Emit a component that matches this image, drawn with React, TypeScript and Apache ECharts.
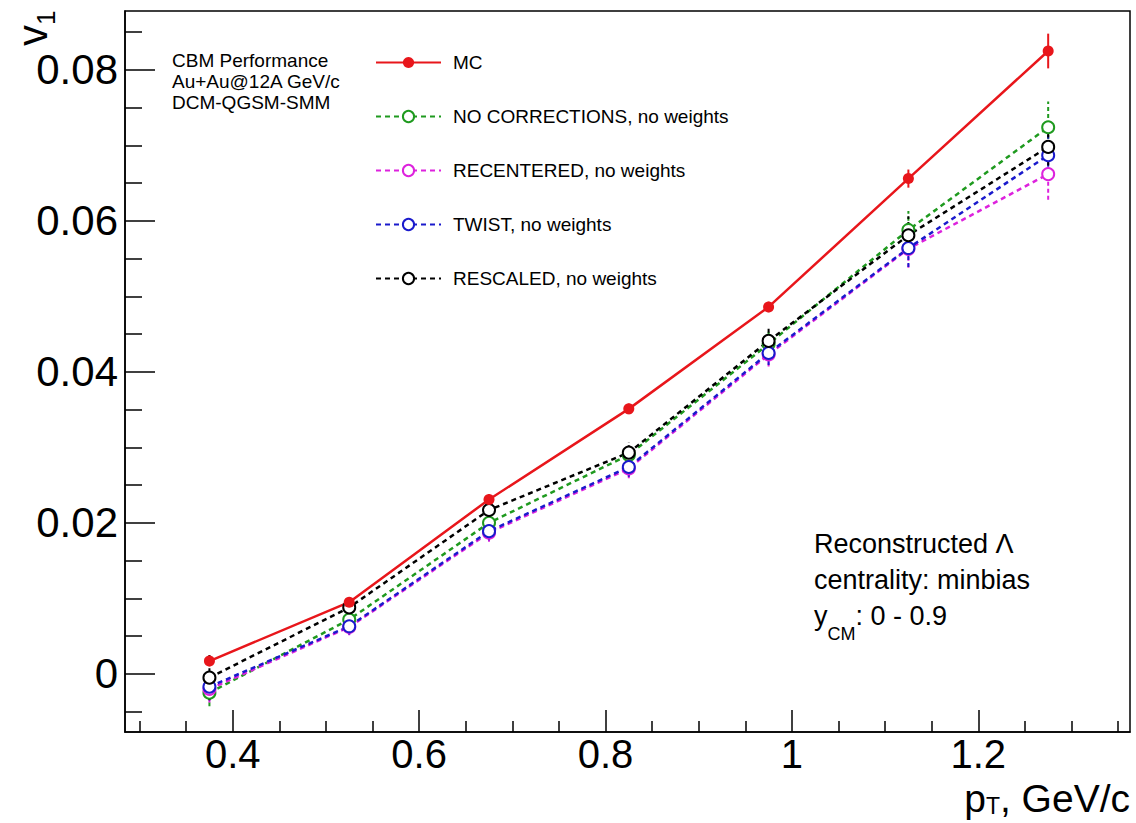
import React, { useEffect, useRef } from "react";
import * as echarts from "echarts";

// ---- data ----
const PT = [0.375, 0.525, 0.675, 0.825, 0.975, 1.125, 1.275];

const MC = [0.0017, 0.0095, 0.0231, 0.0351, 0.0486, 0.0656, 0.0825];
const MC_ERR = [0.0007, 0.0006, 0.0007, 0.0007, 0.0007, 0.0012, 0.0023];

const NO_CORR = [-0.0025, 0.0072, 0.02, 0.029, 0.0437, 0.0588, 0.0724];
const NO_CORR_ERR = [0.0018, 0.0011, 0.0012, 0.0013, 0.0016, 0.0025, 0.0034];

const RECENTERED = [-0.002, 0.0062, 0.0187, 0.0272, 0.0423, 0.0563, 0.0662];
const RECENTERED_ERR = [0.0018, 0.0011, 0.0012, 0.0013, 0.0016, 0.0025, 0.0034];

const TWIST = [-0.0017, 0.0063, 0.0189, 0.0274, 0.0425, 0.0564, 0.0687];
const TWIST_ERR = [0.0018, 0.0011, 0.0012, 0.0013, 0.0016, 0.0025, 0.0034];

const RESCALED = [-0.0005, 0.0088, 0.0217, 0.0293, 0.0441, 0.0581, 0.0698];
const RESCALED_ERR = [0.003, 0.0012, 0.0012, 0.0014, 0.0017, 0.0025, 0.0034];

const X_MAJOR = [0.4, 0.6, 0.8, 1.0, 1.2];
const X_MAJOR_LABELS = ["0.4", "0.6", "0.8", "1", "1.2"];
const X_MINOR = [0.3, 0.35, 0.45, 0.5, 0.55, 0.65, 0.7, 0.75, 0.85, 0.9, 0.95, 1.05, 1.1, 1.15, 1.25, 1.3, 1.35];
const Y_MAJOR = [0, 0.02, 0.04, 0.06, 0.08];
const Y_MAJOR_LABELS = ["0", "0.02", "0.04", "0.06", "0.08"];
const Y_MINOR = [-0.005, 0.005, 0.01, 0.015, 0.025, 0.03, 0.035, 0.045, 0.05, 0.055, 0.065, 0.07, 0.075, 0.085];

const X_MIN = 0.2844;
const X_MAX = 1.3628;
const Y_MIN = -0.0077;
const Y_MAX = 0.0878;

const FONT = "'Liberation Sans', Arial, Helvetica, sans-serif";

const SERIES = [
  { name: "NO CORRECTIONS, no weights", values: NO_CORR, errs: NO_CORR_ERR, color: "#1f9a1f", dashed: true },
  { name: "RECENTERED, no weights", values: RECENTERED, errs: RECENTERED_ERR, color: "#dd22dd", dashed: true },
  { name: "TWIST, no weights", values: TWIST, errs: TWIST_ERR, color: "#1a1acc", dashed: true },
  { name: "RESCALED, no weights", values: RESCALED, errs: RESCALED_ERR, color: "#000000", dashed: true },
  { name: "MC", values: MC, errs: MC_ERR, color: "#e8161b", dashed: false },
];

const LEGEND_ORDER = ["MC", "NO CORRECTIONS, no weights", "RECENTERED, no weights", "TWIST, no weights", "RESCALED, no weights"];

export default function App() {
  const ref = useRef<HTMLDivElement>(null);

  useEffect(() => {
    const chart = echarts.init(ref.current!, null, { renderer: "svg" });

    const errSeries = SERIES.map((s) => ({
      type: "custom",
      name: s.name + " err",
      xAxisIndex: 0,
      yAxisIndex: 0,
      silent: true,
      z: 2,
      encode: { x: 0, y: 1 },
      data: PT.map((x, i) => [x, s.values[i], s.errs[i]]),
      renderItem: (params: any, api: any) => {
        const x = api.value(0);
        const y = api.value(1);
        const e = api.value(2);
        const p1 = api.coord([x, y - e]);
        const p2 = api.coord([x, y + e]);
        return {
          type: "line",
          shape: { x1: p1[0], y1: p1[1], x2: p2[0], y2: p2[1] },
          style: { stroke: s.color, lineWidth: 2, lineDash: s.dashed ? [4, 3] : null },
        };
      },
    }));

    const lineSeries = SERIES.map((s) => ({
      type: "line",
      name: s.name,
      xAxisIndex: 0,
      yAxisIndex: 0,
      z: 3,
      data: PT.map((x, i) => [x, s.values[i]]),
      symbol: s.dashed ? "emptyCircle" : "circle",
      symbolSize: s.dashed ? 12 : 11,
      showAllSymbol: true,
      color: s.color,
      itemStyle: { color: s.color, borderWidth: s.dashed ? 1.5 : 0 },
      lineStyle: { color: s.color, width: 2.5, type: s.dashed ? [5, 4] : "solid" },
    }));

    const option: any = {
      animation: false,
      backgroundColor: "#ffffff",
      grid: {
        left: 125,
        right: 6,
        top: 11,
        bottom: 91,
        show: true,
        borderColor: "#000",
        borderWidth: 1.5,
        backgroundColor: "transparent",
      },
      xAxis: [
        {
          type: "value",
          min: X_MIN,
          max: X_MAX,
          position: "bottom",
          axisLine: { show: true, onZero: false, lineStyle: { color: "#000", width: 1.5 } },
          splitLine: { show: false },
          axisTick: { show: true, inside: true, length: 22, customValues: X_MAJOR, lineStyle: { color: "#000", width: 1.5 } },
          axisLabel: {
            show: true,
            customValues: X_MAJOR,
            margin: 7,
            fontSize: 40,
            lineHeight: 30,
            fontFamily: FONT,
            color: "#000",
            formatter: (v: number) => X_MAJOR_LABELS[X_MAJOR.findIndex((m) => Math.abs(m - v) < 1e-6)] ?? "",
          },
        },
        {
          type: "value",
          min: X_MIN,
          max: X_MAX,
          position: "bottom",
          offset: 0,
          axisLine: { show: false, onZero: false },
          splitLine: { show: false },
          axisTick: { show: true, inside: true, length: 11, customValues: X_MINOR, lineStyle: { color: "#000", width: 1.5 } },
          axisLabel: { show: false },
        },
      ],
      yAxis: [
        {
          type: "value",
          min: Y_MIN,
          max: Y_MAX,
          position: "left",
          axisLine: { show: true, onZero: false, lineStyle: { color: "#000", width: 1.5 } },
          splitLine: { show: false },
          axisTick: { show: true, inside: true, length: 30, customValues: Y_MAJOR, lineStyle: { color: "#000", width: 1.5 } },
          axisLabel: {
            show: true,
            customValues: Y_MAJOR,
            margin: 7,
            fontSize: 42,
            fontFamily: FONT,
            color: "#000",
            formatter: (v: number) => Y_MAJOR_LABELS[Y_MAJOR.findIndex((m) => Math.abs(m - v) < 1e-7)] ?? "",
          },
        },
        {
          type: "value",
          min: Y_MIN,
          max: Y_MAX,
          position: "left",
          offset: 0,
          axisLine: { show: false, onZero: false },
          splitLine: { show: false },
          axisTick: { show: true, inside: true, length: 17, customValues: Y_MINOR, lineStyle: { color: "#000", width: 1.5 } },
          axisLabel: { show: false },
        },
      ],
      legend: {
        data: LEGEND_ORDER,
        orient: "vertical",
        left: 375,
        top: 53,
        padding: 0,
        itemWidth: 65,
        itemHeight: 14,
        itemGap: 35,
        selectedMode: false,
        textStyle: { fontFamily: FONT, fontSize: 19, color: "#000", lineHeight: 14, padding: [0, 0, 0, 7] },
      },
      graphic: [
        {
          type: "text",
          x: 172,
          y: 50,
          style: {
            text: "CBM Performance\nAu+Au@12A GeV/c\nDCM-QGSM-SMM",
            fontFamily: FONT,
            fontSize: 19,
            lineHeight: 21,
            fill: "#000",
            align: "left",
            verticalAlign: "top",
          },
        },
        {
          type: "text",
          x: 814,
          y: 530,
          style: {
            text: "{n|Reconstructed Λ}\n{n|centrality: minbias}\n{n|y}{s|CM}{n|: 0 - 0.9}",
            align: "left",
            verticalAlign: "top",
            rich: {
              n: { fontFamily: FONT, fontSize: 27, lineHeight: 36, fill: "#000", verticalAlign: "top" },
              s: { fontFamily: FONT, fontSize: 18, lineHeight: 14, padding: [23, 0, 0, 0], fill: "#000", verticalAlign: "top" },
            },
          },
        },
        {
          type: "text",
          x: 1130,
          y: 779,
          style: {
            text: "{a|p}{b|T}{a|, GeV/c}",
            align: "right",
            verticalAlign: "top",
            rich: {
              a: { fontFamily: FONT, fontSize: 39, lineHeight: 28, fill: "#000", verticalAlign: "top" },
              b: { fontFamily: FONT, fontSize: 23, lineHeight: 18, padding: [15, 0, 0, 0], fill: "#000", verticalAlign: "top" },
            },
          },
        },
        {
          type: "text",
          x: 11,
          y: 46,
          rotation: Math.PI / 2,
          style: {
            text: "{a|v}{b|1}",
            align: "left",
            verticalAlign: "top",
            rich: {
              a: { fontFamily: FONT, fontSize: 42, lineHeight: 46, fill: "#000", verticalAlign: "top" },
              b: { fontFamily: FONT, fontSize: 26, lineHeight: 22, padding: [22, 0, 0, 0], fill: "#000", verticalAlign: "top" },
            },
          },
        },
      ],
      series: [...errSeries, ...lineSeries],
    };

    chart.setOption(option);
    return () => chart.dispose();
  }, []);

  return (
    <div
      ref={ref}
      style={{ position: "fixed", left: 0, top: 0, width: 1136, height: 823, background: "#fff" }}
    />
  );
}
